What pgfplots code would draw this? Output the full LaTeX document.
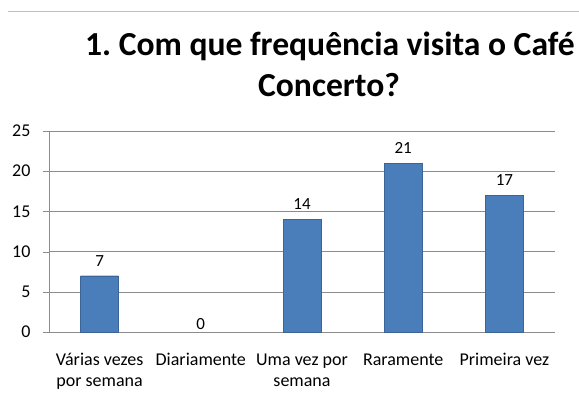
\documentclass[border=0pt]{standalone}
\usepackage{pgfplots}
\pgfplotsset{compat=1.18}
\usepackage{fontspec}
\setmainfont{Carlito}
\definecolor{barblue}{HTML}{4A7EBB}
\definecolor{gridgray}{HTML}{8C8C8C}
\begin{document}
\begin{tikzpicture}
\useasboundingbox (-49bp,-77bp) rectangle (530bp,332bp);
\draw[gray!50, line width=0.8bp] (-41bp,321bp) -- (530bp,321bp);
\begin{axis}[
  at={(0bp,0bp)}, anchor=south west,
  scale only axis, width=506bp, height=201bp,
  ybar, bar width=38bp, bar shift=0pt,
  xmin=-0.5, xmax=4.5, ymin=0, ymax=25,
  axis x line=bottom, axis y line=left,
  axis line style={gridgray, -},
  ytick={0,5,...,25},
  ymajorgrids, major grid style={gridgray, line width=0.6bp},
  ytick style={gridgray}, major tick length=6bp, tick align=outside,
  xtick={0,1,2,3,4},
  xticklabels={{Várias vezes\\por semana},{Diariamente},{Uma vez por\\semana},{Raramente},{Primeira vez}},
  x tick label style={align=center, font=\fontsize{18bp}{21bp}\selectfont, yshift=-12bp},
  xtick style={draw=none},
  extra x ticks={-0.5,0.5,1.5,2.5,3.5,4.5},
  extra x tick labels={},
  extra x tick style={tick style={gridgray, draw=gridgray}, major tick length=6bp, grid=none},
  y tick label style={font=\fontsize{18bp}{20bp}\selectfont, xshift=-9bp},
  /pgf/number format/assume math mode=true,
  nodes near coords,
  every node near coord/.append style={font=\fontsize{17bp}{19bp}\selectfont, yshift=6bp, black},
  clip=false,
]
\addplot[fill=barblue, draw=barblue!80!black] coordinates {(0,7) (2,14) (3,21) (4,17)};
\addplot[draw=none, fill=none, every node near coord/.append style={yshift=-7bp}] coordinates {(1,0)};
\end{axis}
\node[anchor=base, font=\bfseries\fontsize{33.6bp}{38bp}\selectfont] at (281bp,276bp) {1.\ Com que frequência visita o Café};
\node[anchor=base, font=\bfseries\fontsize{33.6bp}{38bp}\selectfont] at (280bp,235bp) {Concerto?};
\end{tikzpicture}
\end{document}
